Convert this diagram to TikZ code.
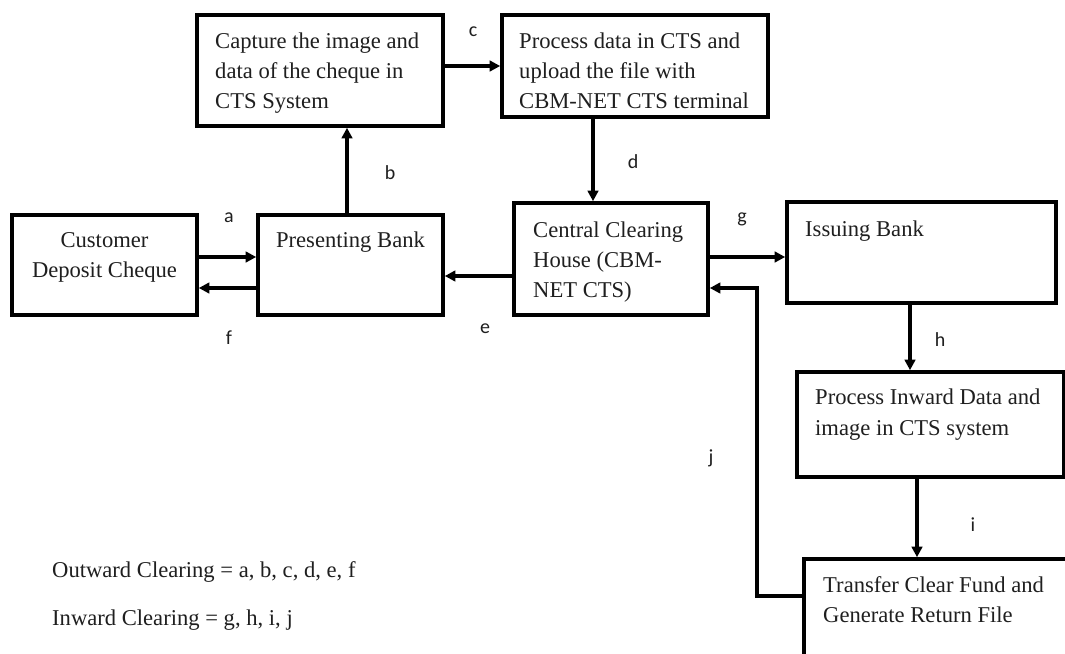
\documentclass[tikz,border=0pt]{standalone}
\usepackage{fontspec}
\setmainfont{Liberation Serif}
\newfontfamily\lblfont{Carlito}
\usetikzlibrary{arrows.meta}

\newcommand{\boxfont}{\fontsize{22.6}{30}\selectfont}

\tikzset{
  stage/.style={draw=black, line width=3.6pt, rectangle, inner sep=0pt},
  boxtext/.style={anchor=north west, inner sep=0pt, align=left,
                  font=\boxfont, text=black!88},
  ctrtext/.style={anchor=north, inner sep=0pt, align=center,
                  font=\boxfont, text=black!88},
  flow/.style={draw=black, line width=3.2pt,
               -{Triangle[length=10.5pt,width=10.5pt]}},
  tag/.style={inner sep=0pt, font=\lblfont\fontsize{20}{23}\selectfont,
              text=black!88},
  legend/.style={anchor=base west, inner sep=0pt, font=\boxfont,
                 text=black!88}
}

\begin{document}
\begin{tikzpicture}[x=1pt, y=-1pt]
  \clip (0,0) rectangle (1065,653);
  \fill[white] (0,0) rectangle (1065,653);

  % process boxes
  \node[stage, minimum width=246pt, minimum height=111pt] (cap)  at (320,70.5)   {};
  \node[stage, minimum width=266pt, minimum height=102pt] (proc) at (635,66)     {};
  \node[stage, minimum width=185pt, minimum height=100pt] (cust) at (104.5,265)  {};
  \node[stage, minimum width=185pt, minimum height=100pt] (pres) at (350.5,265)  {};
  \node[stage, minimum width=194pt, minimum height=112pt] (cch)  at (611,259)    {};
  \node[stage, minimum width=269pt, minimum height=101pt] (iss)  at (921.5,252.5){};
  \node[stage, minimum width=267pt, minimum height=105pt] (inw)  at (930.5,424.5){};
  \node[stage, minimum width=286pt, minimum height=121pt] (trf)  at (947,619.5)  {};

  % box captions
  \node[boxtext] (capT)  at (215,27)  {\strut Capture the image and\\data of the cheque in\\CTS System};
  \node[boxtext] (procT) at (519,27)  {\strut Process data in CTS and\\upload the file with\\CBM-NET CTS terminal};
  \node[ctrtext] (custT) at (104.5,226) {\strut Customer\\Deposit Cheque};
  \node[ctrtext] (presT) at (350.5,226) {\strut Presenting Bank};
  \node[boxtext] (cchT)  at (533,216) {\strut Central Clearing\\House (CBM-\\NET CTS)};
  \node[boxtext] (issT)  at (805,215) {\strut Issuing Bank};
  \node[boxtext, font=\fontsize{22.6}{31.5}\selectfont] (inwT) at (815,382) {\strut Process Inward Data and\\image in CTS system};
  \node[boxtext] (trfT)  at (823,571) {\strut Transfer Clear Fund and\\Generate Return File};

  % connectors
  \draw[flow] ([yshift=8pt]cust.east) coordinate (a0) -- (a0 -| pres.west);
  \draw[flow] ([yshift=-23pt]pres.west) coordinate (f0) -- (f0 -| cust.east);
  \draw[flow] ([xshift=-3.5pt]pres.north) coordinate (b0) -- (b0 |- cap.south);
  \draw[flow] (cap.east |- proc.west) -- (proc.west);
  \draw[flow] ([xshift=-42pt]proc.south) coordinate (d0) -- (d0 |- cch.north);
  \draw[flow] ([yshift=-17pt]cch.west) coordinate (e0) -- (e0 -| pres.east);
  \draw[flow] ([yshift=2pt]cch.east) coordinate (g0) -- (g0 -| iss.west);
  \draw[flow] ([xshift=-11.5pt]iss.south) coordinate (h0) -- (h0 |- inw.north);
  \draw[flow] ([xshift=-13.5pt]inw.south) coordinate (i0) -- (i0 |- trf.north);
  \coordinate (jturn) at (757,288);
  \draw[flow] ([yshift=23.5pt]trf.west) -| (jturn) -- (jturn -| cch.east);

  % connector letters
  \node[tag] (la) at (229,218) {a};
  \node[tag] (lb) at (390,173) {b};
  \node[tag] (lc) at (473,32)  {c};
  \node[tag] (ld) at (633,162) {d};
  \node[tag] (le) at (485,329) {e};
  \node[tag] (lf) at (229,338) {f};
  \node[tag] (lg) at (742,219) {g};
  \node[tag] (lh) at (940,340) {h};
  \node[tag] (li) at (973,525) {i};
  \node[tag] (lj) at (711,458) {j};

  % legend
  \node[legend] (outw) at (52,577) {Outward Clearing = a, b, c, d, e, f};
  \node[legend] (inwd) at (52,625) {Inward Clearing = g, h, i, j};
\end{tikzpicture}
\end{document}
